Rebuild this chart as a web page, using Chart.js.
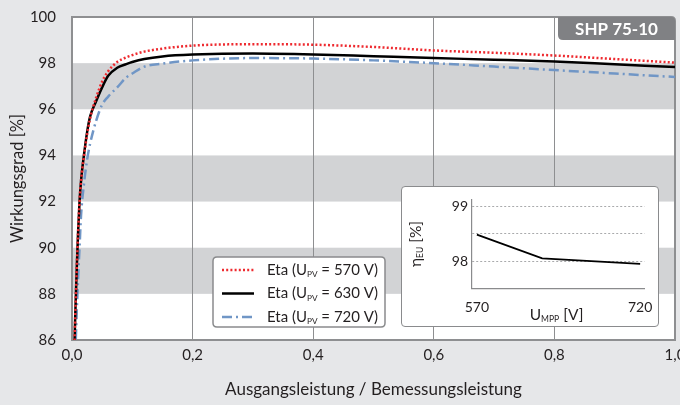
<!DOCTYPE html>
<html>
<head>
<meta charset="utf-8">
<script src="https://cdn.jsdelivr.net/npm/chart.js@4.4.1/dist/chart.umd.min.js"></script>
<style>
html, body { margin: 0; padding: 0; background: #e6e7e9; overflow: hidden; }
#wrap { position: relative; width: 680px; height: 405px; overflow: hidden; }
#main { position: absolute; left: 0; top: 0; }
#insetBox { position: absolute; left: 401px; top: 186px; width: 258px; height: 141px; box-sizing: border-box;
  background: #fff; border: 1.5px solid #8a8b8d; border-radius: 4px; }
#inset { position: absolute; left: 0; top: 0; }
</style>
</head>
<body>
<div id="wrap">
  <canvas id="main" width="700" height="405"></canvas>
  <div id="insetBox"><canvas id="inset" width="255" height="138"></canvas></div>
</div>
<script>
// efficiency curves
const loadShare = [0.004, 0.006, 0.008, 0.01, 0.0125, 0.015, 0.02, 0.025, 0.03, 0.04, 0.05, 0.06, 0.075, 0.09, 0.1, 0.12, 0.15, 0.2, 0.3, 0.4, 0.5, 0.6, 0.7, 0.8, 0.9, 1.0];
const eta570 = [85.8, 87.6, 89.2, 90.6, 92.0, 92.9, 94.0, 94.9, 95.6, 96.5, 97.2, 97.65, 98.05, 98.25, 98.35, 98.5, 98.63, 98.76, 98.82, 98.8, 98.7, 98.55, 98.45, 98.33, 98.18, 98.02];
const eta630 = [85.8, 87.6, 89.2, 90.6, 92.0, 92.9, 94.05, 95.0, 95.68, 96.35, 96.95, 97.45, 97.8, 97.96, 98.05, 98.18, 98.29, 98.37, 98.42, 98.38, 98.3, 98.22, 98.15, 98.07, 97.95, 97.83];
const eta720 = [84.3, 85.8, 87.3, 88.6, 90.0, 91.4, 92.8, 93.8, 94.5, 95.5, 96.2, 96.55, 96.95, 97.38, 97.55, 97.85, 97.98, 98.12, 98.22, 98.2, 98.12, 98.0, 97.85, 97.7, 97.55, 97.4];
const voltages = [570, 630, 720];
const grayBands = [[88, 90], [92, 94], [96, 98]];
const modelName = 'SHP 75-10';

// inset: european efficiency vs MPP voltage
const euVoltages = [570, 630, 720];
const euEta = [98.48, 98.05, 97.95];
const euXTicks = [570, 720];
const euYTicks = [98, 98.5, 99];

const FONT = 'Lato, "Open Sans", sans-serif';
const TEXT = '#231f20';
const colors = ['#ee2a2f', '#000000', '#7096c6'];
const dashes = [[2, 2.2], [], [10, 4, 2, 4]];

function toPts(ys) {
  return loadShare.map((x, i) => ({ x: x, y: ys[i] }));
}

// draw text with a subscript part, parts = [[text, isSub], ...]
function subText(ctx, x, y, parts, size, align) {
  ctx.save();
  ctx.textBaseline = 'middle';
  ctx.textAlign = 'left';
  let total = 0;
  parts.forEach(p => {
    ctx.font = (p[1] ? size * 0.55 : size) + 'px ' + FONT;
    total += ctx.measureText(p[0]).width;
  });
  let cx = align === 'center' ? x - total / 2 : x;
  parts.forEach(p => {
    ctx.font = (p[1] ? size * 0.55 : size) + 'px ' + FONT;
    ctx.fillText(p[0], cx, p[1] ? y + size * 0.3 : y);
    cx += ctx.measureText(p[0]).width;
  });
  ctx.restore();
}

function roundRect(ctx, x, y, w, h, r) {
  ctx.beginPath();
  ctx.moveTo(x + r, y);
  ctx.lineTo(x + w - r, y);
  ctx.quadraticCurveTo(x + w, y, x + w, y + r);
  ctx.lineTo(x + w, y + h - r);
  ctx.quadraticCurveTo(x + w, y + h, x + w - r, y + h);
  ctx.lineTo(x + r, y + h);
  ctx.quadraticCurveTo(x, y + h, x, y + h - r);
  ctx.lineTo(x, y + r);
  ctx.quadraticCurveTo(x, y, x + r, y);
  ctx.closePath();
}

const mainDecor = {
  id: 'mainDecor',
  beforeDraw(chart) {
    const { ctx, chartArea: a, scales } = chart;
    ctx.save();
    ctx.fillStyle = '#ffffff';
    ctx.fillRect(a.left, a.top, a.right - a.left, a.bottom - a.top);
    ctx.fillStyle = '#d2d3d5';
    grayBands.forEach(b => {
      const y1 = scales.y.getPixelForValue(b[1]);
      const y0 = scales.y.getPixelForValue(b[0]);
      ctx.fillRect(a.left, y1, a.right - a.left, y0 - y1);
    });
    ctx.restore();
  },
  beforeDatasetsDraw(chart) {
    const { ctx, chartArea: a } = chart;
    ctx.save();
    ctx.strokeStyle = '#8e8f91';
    ctx.lineWidth = 2;
    ctx.beginPath();
    ctx.moveTo(a.left, a.bottom);
    ctx.lineTo(a.left, a.top);
    ctx.lineTo(a.right - 4, a.top);
    ctx.quadraticCurveTo(a.right, a.top, a.right, a.top + 4);
    ctx.lineTo(a.right, a.bottom);
    ctx.closePath();
    ctx.stroke();
    ctx.restore();
  },
  afterDraw(chart) {
    const { ctx, chartArea: a } = chart;
    ctx.save();
    // model tab
    const tx = 558, tw = a.right - tx, th = 23;
    ctx.fillStyle = '#808184';
    ctx.beginPath();
    ctx.moveTo(tx, a.top);
    ctx.lineTo(a.right - 4, a.top);
    ctx.quadraticCurveTo(a.right, a.top, a.right, a.top + 4);
    ctx.lineTo(a.right, a.top + th);
    ctx.lineTo(tx + 5, a.top + th);
    ctx.quadraticCurveTo(tx, a.top + th, tx, a.top + th - 5);
    ctx.closePath();
    ctx.fill();
    ctx.fillStyle = '#ffffff';
    ctx.font = 'bold 17px ' + FONT;
    ctx.textAlign = 'center';
    ctx.textBaseline = 'middle';
    ctx.fillText(modelName, tx + tw / 2, a.top + th / 2 + 1);

    // legend
    roundRect(ctx, 213, 257, 172, 70, 4);
    ctx.fillStyle = '#ffffff';
    ctx.fill();
    ctx.strokeStyle = '#8a8b8d';
    ctx.lineWidth = 1.5;
    ctx.stroke();
    voltages.forEach((v, i) => {
      const y = 270 + i * 23.5;
      ctx.strokeStyle = colors[i];
      ctx.lineWidth = 2.5;
      ctx.setLineDash(dashes[i]);
      ctx.beginPath();
      ctx.moveTo(222, y);
      ctx.lineTo(254, y);
      ctx.stroke();
      ctx.setLineDash([]);
      ctx.fillStyle = TEXT;
      subText(ctx, 267, y, [['Eta (U', false], ['PV', true], [' = ' + v + ' V)', false]], 15);
    });
    ctx.restore();
  }
};

new Chart(document.getElementById('main'), {
  type: 'scatter',
  data: {
    datasets: [eta570, eta630, eta720].map((d, i) => ({
      data: toPts(d),
      showLine: true,
      pointRadius: 0,
      borderColor: colors[i],
      borderWidth: 2.5,
      borderDash: dashes[i],
      cubicInterpolationMode: 'monotone'
    }))
  },
  options: {
    responsive: false,
    animation: false,
    layout: { padding: { top: 14, right: 25, left: 0, bottom: 0 } },
    plugins: { legend: { display: false }, tooltip: { enabled: false } },
    scales: {
      x: {
        type: 'linear', min: 0, max: 1,
        ticks: { stepSize: 0.2, padding: 6, color: TEXT, font: { family: FONT, size: 15 },
          callback: v => v.toFixed(1).replace('.', ',') },
        grid: { drawTicks: false, color: c => (c.tick && (c.tick.value < 0.01 || c.tick.value > 0.99)) ? 'rgba(0,0,0,0)' : '#8e8f91', lineWidth: 1 },
        border: { display: false },
        title: { display: true, text: 'Ausgangsleistung / Bemessungsleistung', color: TEXT,
          font: { family: FONT, size: 17 }, padding: { top: 0, bottom: 5 } },
        afterFit: s => { s.height = 65; }
      },
      y: {
        min: 86, max: 100,
        ticks: { stepSize: 2, padding: 8, color: TEXT, font: { family: FONT, size: 15 } },
        grid: { display: false },
        border: { display: false },
        title: { display: true, text: 'Wirkungsgrad [%]', color: TEXT,
          font: { family: FONT, size: 16.5 }, padding: { top: 8, bottom: 0 } },
        afterFit: s => { s.width = 72; }
      }
    }
  },
  plugins: [mainDecor]
});

const insetDecor = {
  id: 'insetDecor',
  afterDraw(chart) {
    const { ctx, chartArea: a } = chart;
    ctx.save();
    ctx.fillStyle = TEXT;
    subText(ctx, 154.5, 128, [['U', false], ['MPP', true], [' [V]', false]], 15.5, 'center');
    ctx.translate(13.5, (a.top + a.bottom) / 2);
    ctx.rotate(-Math.PI / 2);
    subText(ctx, 0, 0, [['\u03b7', false], ['EU', true], [' [%]', false]], 15.5, 'center');
    ctx.restore();
  }
};

new Chart(document.getElementById('inset'), {
  type: 'scatter',
  data: {
    datasets: [{
      data: euVoltages.map((v, i) => ({ x: v, y: euEta[i] })),
      showLine: true,
      pointRadius: 0,
      borderColor: '#000000',
      borderWidth: 1.8,
      tension: 0
    }]
  },
  options: {
    responsive: false,
    animation: false,
    layout: { padding: { top: 12.5, right: 12.5, left: 0, bottom: 0 } },
    plugins: { legend: { display: false }, tooltip: { enabled: false } },
    scales: {
      x: {
        type: 'linear', min: 565.5, max: 724,
        afterBuildTicks: s => { s.ticks = euXTicks.map(v => ({ value: v })); },
        ticks: { padding: 3, color: TEXT, font: { family: FONT, size: 14 } },
        grid: { display: false },
        border: { display: true, color: '#8a8b8d', width: 1.2 },
        afterFit: s => { s.height = 36.5; }
      },
      y: {
        min: 97.5, max: 99.12,
        afterBuildTicks: s => { s.ticks = euYTicks.map(v => ({ value: v })); },
        ticks: { padding: 4, color: TEXT, font: { family: FONT, size: 14 },
          callback: v => (v % 1 === 0 ? String(v) : '') },
        grid: { drawTicks: false, color: '#a9aaac', lineWidth: 1 },
        border: { display: true, color: '#8a8b8d', width: 1.2, dash: [2, 2] },
        afterFit: s => { s.width = 70; }
      }
    }
  },
  plugins: [insetDecor]
});
</script>
</body>
</html>
